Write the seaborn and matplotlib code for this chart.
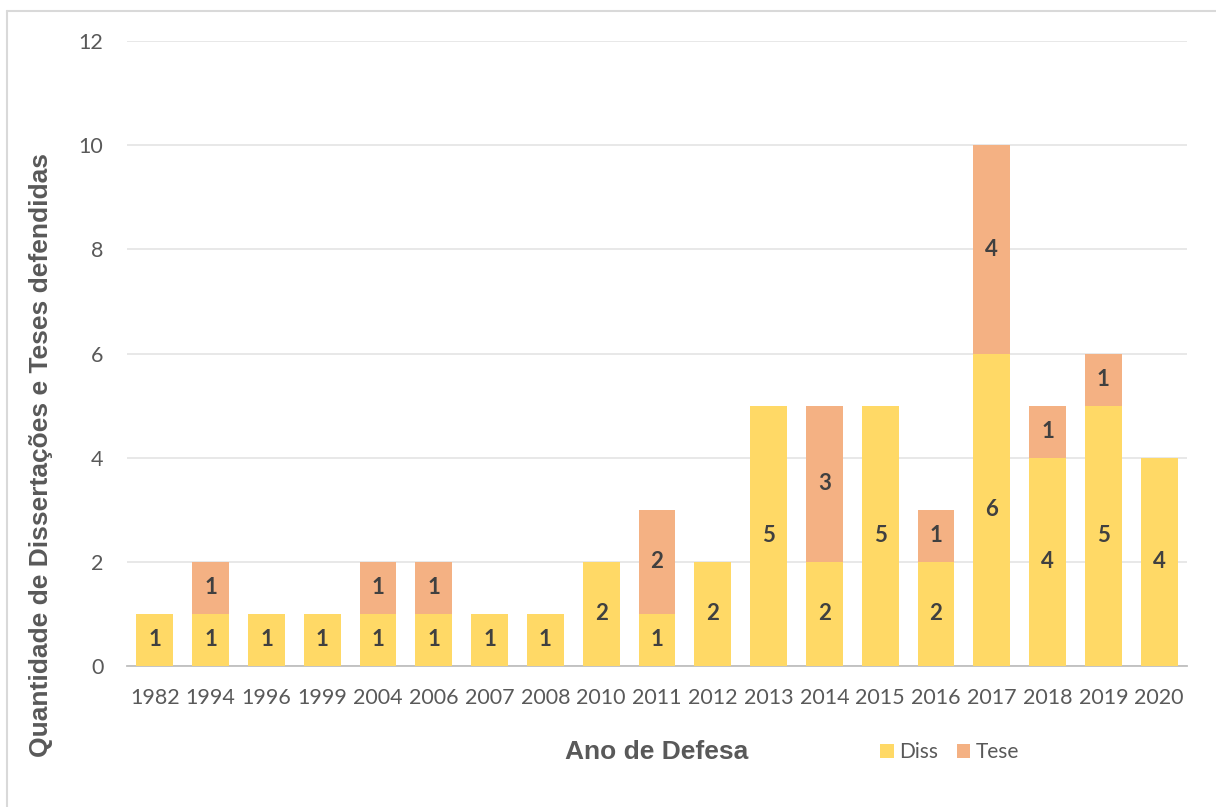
import matplotlib
matplotlib.use("Agg")
import matplotlib.pyplot as plt
from matplotlib.lines import Line2D
from matplotlib.patches import Patch
import seaborn as sns
import pandas as pd
import numpy as np

years = ["1982", "1994", "1996", "1999", "2004", "2006", "2007", "2008", "2010", "2011",
         "2012", "2013", "2014", "2015", "2016", "2017", "2018", "2019", "2020"]
diss = [1, 1, 1, 1, 1, 1, 1, 1, 2, 1, 2, 5, 2, 5, 2, 6, 4, 5, 4]
tese = [0, 1, 0, 0, 1, 1, 0, 0, 0, 2, 0, 0, 3, 0, 1, 4, 1, 1, 0]
yticks = [0, 2, 4, 6, 8, 10, 12]

DISS_C = "#FFD966"
TESE_C = "#F4B183"
TXT = "#595959"
LBL = "#404040"

df = pd.DataFrame({"Ano": years, "Diss": diss, "Tese": tese})
df["Total"] = df["Diss"] + df["Tese"]

sns.set_theme(style="white")
plt.rcParams["font.family"] = ["Lato", "DejaVu Sans"]

fig = plt.figure(figsize=(12.16, 8.07), dpi=100)
ax = fig.add_axes([127 / 1216, 1 - 666 / 807, 1060 / 1216, 625 / 807])

sns.barplot(data=df, x="Ano", y="Total", color=TESE_C, width=0.66, ax=ax,
            saturation=1, linewidth=0, zorder=2)
sns.barplot(data=df, x="Ano", y="Diss", color=DISS_C, width=0.66, ax=ax,
            saturation=1, linewidth=0, zorder=3)

tot_cont, diss_cont = ax.containers[0], ax.containers[1]
ax.bar_label(diss_cont, labels=[str(v) for v in diss], label_type="center",
             fontsize=16, fontweight="bold", color=LBL, zorder=5)
for p, d, t in zip(tot_cont.patches, diss, tese):
    if t > 0:
        ax.text(p.get_x() + p.get_width() / 2, d + t / 2, str(t), ha="center",
                va="center", fontsize=16, fontweight="bold", color=LBL, zorder=5)

ax.set_ylim(0, 12)
ax.set_xlim(-0.5, len(years) - 0.5)
ax.set_yticks(yticks)
ax.yaxis.grid(True, color="#E6E6E6", linewidth=1.3, zorder=0)
ax.set_axisbelow(True)
for s in ["top", "right", "left"]:
    ax.spines[s].set_visible(False)
ax.spines["bottom"].set_color("#BFBFBF")
ax.spines["bottom"].set_linewidth(1.3)
ax.tick_params(axis="both", length=0, labelsize=15.5, labelcolor=TXT)
ax.tick_params(axis="x", pad=16)
ax.tick_params(axis="y", pad=17)

ax.set_xlabel("")
ax.set_ylabel("")
fig.text(657 / 1216, 1 - 752 / 807, "Ano de Defesa", ha="center", va="center",
         fontsize=19, fontweight="bold", color=TXT, family=["Liberation Sans", "DejaVu Sans"])
fig.text(41 / 1216, 1 - 455 / 807, "Quantidade de Dissertações e Teses defendidas",
         ha="center", va="center", rotation=90, fontsize=19, fontweight="bold",
         color=TXT, family=["Liberation Sans", "DejaVu Sans"])

handles = [Patch(facecolor=DISS_C, edgecolor="none", label="Diss"),
           Patch(facecolor=TESE_C, edgecolor="none", label="Tese")]
fig.legend(handles=handles, loc="center left", bbox_to_anchor=(880 / 1216, 1 - 752 / 807),
           ncol=2, frameon=False, fontsize=15, handlelength=0.65, handleheight=0.65,
           handletextpad=0.25, columnspacing=0.9, labelcolor=TXT, borderaxespad=0,
           borderpad=0)

fig.add_artist(Line2D([7 / 1216, 1], [1 - 11 / 807, 1 - 11 / 807], color="#D9D9D9",
                      linewidth=1.5, transform=fig.transFigure))
fig.add_artist(Line2D([7 / 1216, 7 / 1216], [0, 1 - 11 / 807], color="#D9D9D9",
                      linewidth=1.5, transform=fig.transFigure))

fig.savefig("out.png", dpi=100, facecolor="white")
